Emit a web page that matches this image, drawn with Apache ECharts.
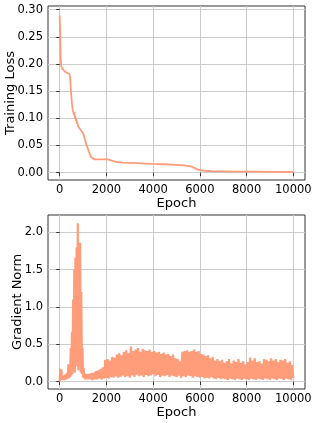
<!DOCTYPE html>
<html>
<head>
<meta charset="utf-8">
<script src="https://cdn.jsdelivr.net/npm/echarts@6/dist/echarts.min.js"></script>
<style>
html,body{margin:0;padding:0;background:#fff;}
#chart{width:316px;height:423px;}
</style>
</head>
<body>
<div id="chart"></div>
<script>
// ---- Data ----
const xTicks = [0, 2000, 4000, 6000, 8000, 10000];
const lossTicks = [0, 0.05, 0.1, 0.15, 0.2, 0.25, 0.3];
const gradTicks = [0, 0.5, 1, 1.5, 2];

const lossEpochs = [0, 20, 40, 70, 120, 200, 300, 400, 440, 470, 500, 530, 560, 590, 610, 630, 650, 670, 690, 710, 730, 750, 780, 810, 840, 870, 920, 1000, 1050, 1100, 1150, 1200, 1250, 1300, 1350, 1400, 1500, 1700, 1900, 2000, 2100, 2300, 2500, 2700, 3000, 3500, 4000, 4500, 5000, 5300, 5500, 5650, 5800, 5900, 6000, 6200, 6500, 7000, 7500, 8000, 8500, 9000, 9500, 10000];
const lossValues = [0.289, 0.26, 0.21, 0.195, 0.191, 0.187, 0.184, 0.182, 0.178, 0.160, 0.140, 0.125, 0.115, 0.110, 0.106, 0.112, 0.100, 0.104, 0.095, 0.099, 0.090, 0.094, 0.086, 0.089, 0.082, 0.080, 0.077, 0.073, 0.066, 0.058, 0.051, 0.045, 0.038, 0.033, 0.028, 0.025, 0.0245, 0.0245, 0.0245, 0.025, 0.024, 0.021, 0.0195, 0.0185, 0.018, 0.017, 0.016, 0.0155, 0.0145, 0.0135, 0.0125, 0.011, 0.008, 0.006, 0.0045, 0.0035, 0.003, 0.0025, 0.002, 0.002, 0.0018, 0.0016, 0.0015, 0.0012];

// gradient norm, epochs 0..1200 every 25
const gradEarlyStart = 0, gradEarlyStep = 25;
const gradEarly = [0.00, 0.17, 0.03, 0.16, 0.02, 0.06, 0.03, 0.08, 0.02, 0.09, 0.04, 0.10, 0.03, 0.12, 0.05, 0.23, 0.04, 0.22, 0.06, 0.45, 0.08, 0.66, 0.10, 1.10, 0.15, 1.50, 0.12, 1.66, 0.30, 1.80, 0.20, 2.12, 0.15, 1.75, 0.40, 1.86, 0.12, 1.20, 0.10, 0.45, 0.05, 0.18, 0.04, 0.11, 0.03, 0.10, 0.04, 0.10, 0.03];
// gradient norm, epochs 1250..10000 every 50
const gradLateStart = 1250, gradLateStep = 50;
const gradLate = [
0.10,0.03, 0.11,0.02, 0.12,0.03, 0.14,0.03, 0.15,0.04, 0.17,0.03, 0.19,0.04, 0.29,0.05,
0.30,0.04, 0.28,0.06, 0.33,0.05, 0.32,0.07, 0.36,0.05, 0.38,0.06, 0.35,0.08, 0.40,0.06, 0.42,0.07, 0.38,0.05,
0.47,0.08, 0.41,0.06, 0.43,0.09, 0.45,0.07, 0.40,0.08, 0.44,0.06, 0.42,0.09, 0.41,0.07, 0.43,0.08, 0.40,0.10,
0.41,0.07, 0.39,0.09, 0.40,0.06, 0.37,0.08, 0.39,0.07, 0.36,0.09, 0.37,0.06, 0.34,0.08, 0.36,0.07, 0.31,0.06,
0.30,0.08, 0.27,0.05, 0.40,0.07, 0.41,0.06, 0.42,0.08, 0.40,0.07, 0.41,0.05, 0.43,0.07, 0.40,0.06, 0.41,0.05,
0.37,0.06, 0.36,0.04, 0.34,0.05, 0.35,0.04, 0.31,0.06, 0.33,0.04, 0.28,0.03, 0.30,0.05, 0.27,0.03, 0.29,0.04,
0.25,0.03, 0.27,0.02, 0.30,0.04, 0.24,0.03, 0.28,0.02, 0.26,0.04, 0.30,0.03, 0.25,0.02, 0.27,0.04, 0.23,0.03,
0.26,0.02, 0.32,0.04, 0.28,0.03, 0.31,0.02, 0.26,0.04, 0.27,0.03, 0.24,0.02, 0.30,0.04, 0.29,0.03, 0.27,0.02,
0.31,0.04, 0.28,0.03, 0.30,0.02, 0.26,0.04, 0.29,0.03, 0.28,0.02, 0.30,0.04, 0.25,0.03, 0.27,0.02, 0.22,0.05
];

// ---- Build series data ----
const lossData = lossEpochs.map((e, i) => [e, lossValues[i]]);
const gradData = gradEarly.map((v, i) => [gradEarlyStart + i * gradEarlyStep, v])
  .concat(gradLate.map((v, i) => [gradLateStart + i * gradLateStep, v]));

const lineColor = '#FF9C7A';
const font = 'DejaVu Sans';

function xAxisCfg(gridIndex) {
  return {
    type: 'value', gridIndex, min: -500, max: 10500, splitNumber: 5,
    name: 'Epoch', nameLocation: 'middle', nameGap: 15,
    nameTextStyle: { fontFamily: font, fontSize: 13, color: '#000' },
    axisLine: { show: false },
    axisTick: { show: true, length: 3.5, lineStyle: { color: '#333' }, customValues: xTicks },
    axisLabel: { fontFamily: font, fontSize: 11.5, color: '#000', margin: 4, customValues: xTicks,
      formatter: v => String(v) },
    splitLine: { show: true, lineStyle: { color: '#cccccc', width: 1 } }
  };
}

const option = {
  animation: false,
  backgroundColor: '#fff',
  grid: [
    { left: 48, top: 6, width: 257, height: 174, show: true, borderColor: '#333', borderWidth: 1,
      containLabel: false, outerBoundsMode: 'none' },
    { left: 48, top: 215, width: 257, height: 174, show: true, borderColor: '#333', borderWidth: 1,
      containLabel: false, outerBoundsMode: 'none' }
  ],
  xAxis: [xAxisCfg(0), xAxisCfg(1)],
  yAxis: [
    {
      type: 'value', gridIndex: 0, min: -0.0135, max: 0.3066, splitNumber: 5,
      name: 'Training Loss', nameLocation: 'middle', nameGap: 31, nameMoveOverlap: false,
      nameTextStyle: { fontFamily: font, fontSize: 13, color: '#000' },
      axisLine: { show: false },
      axisTick: { show: true, length: 3.5, lineStyle: { color: '#333' }, customValues: lossTicks },
      axisLabel: { fontFamily: font, fontSize: 11.5, color: '#000', margin: 5,
        customValues: lossTicks, formatter: v => v.toFixed(2) },
      splitLine: { show: true, lineStyle: { color: '#cccccc', width: 1 } }
    },
    {
      type: 'value', gridIndex: 1, min: -0.1, max: 2.232, splitNumber: 5,
      name: 'Gradient Norm', nameLocation: 'middle', nameGap: 24, nameMoveOverlap: false,
      nameTextStyle: { fontFamily: font, fontSize: 13, color: '#000' },
      axisLine: { show: false },
      axisTick: { show: true, length: 3.5, lineStyle: { color: '#333' }, customValues: gradTicks },
      axisLabel: { fontFamily: font, fontSize: 11.5, color: '#000', margin: 5,
        customValues: gradTicks, formatter: v => v.toFixed(1) },
      splitLine: { show: true, lineStyle: { color: '#cccccc', width: 1 } }
    }
  ],
  series: [
    { type: 'line', xAxisIndex: 0, yAxisIndex: 0, data: lossData, showSymbol: false, symbol: 'none',
      lineStyle: { color: lineColor, width: 1.8 } },
    { type: 'line', xAxisIndex: 1, yAxisIndex: 1, data: gradData, showSymbol: false, symbol: 'none',
      lineStyle: { color: lineColor, width: 2.2, join: 'bevel' } }
  ]
};

const chart = echarts.init(document.getElementById('chart'), null, { renderer: 'canvas' });
chart.setOption(option);
</script>
</body>
</html>
